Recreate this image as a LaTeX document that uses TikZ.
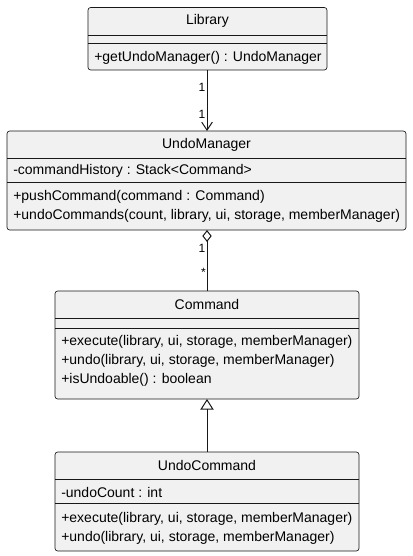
\documentclass[tikz,border=0pt]{standalone}
\usepackage{fontspec}
\setmainfont{Liberation Sans}
\usepackage{tikz}
\usetikzlibrary{
  arrows.meta,
  positioning,
}
\definecolor{umlline}{HTML}{181818}
\definecolor{umlfill}{HTML}{F1F1F1}

\begin{document}
\begin{tikzpicture}[
    x=0.75pt, y=-0.75pt,
    classbox/.style={rectangle, draw=umlline, fill=umlfill, line width=0.5pt,
                     rounded corners=2pt, inner sep=0pt, outer sep=0pt},
    member/.style={anchor=west, inner sep=0pt, font=\fontsize{10.5}{12.6}\selectfont},
    title/.style={inner sep=0pt, font=\fontsize{10.5}{12.6}\selectfont},
    mult/.style={inner sep=0pt, font=\fontsize{9}{10}\selectfont},
    sep/.style={draw=umlline, line width=0.5pt},
    link/.style={draw=umlline, line width=0.75pt},
  ]
  \useasboundingbox (0,0) rectangle (412,556);

  % class boxes
  \node[classbox, minimum width=179.25pt, minimum height=46.875pt] (lib) at (207.5,38.75) {};
  \node[classbox, minimum width=299.25pt, minimum height=74.25pt] (mgr) at (206.5,180.5) {};
  \node[classbox, minimum width=228pt, minimum height=81pt] (cmd) at (207,345) {};
  \node[classbox, minimum width=228pt, minimum height=74.25pt] (ucmd) at (207,501.5) {};

  % compartments
  \draw[sep] (lib.west |- 0,35) -- (lib.east |- 0,35);
  \draw[sep] (lib.west |- 0,43) -- (lib.east |- 0,43);
  \draw[sep] (mgr.west |- 0,158) -- (mgr.east |- 0,158);
  \draw[sep] (mgr.west |- 0,182) -- (mgr.east |- 0,182);
  \draw[sep] (cmd.west |- 0,318) -- (cmd.east |- 0,318);
  \draw[sep] (cmd.west |- 0,328) -- (cmd.east |- 0,328);
  \draw[sep] (ucmd.west |- 0,479) -- (ucmd.east |- 0,479);
  \draw[sep] (ucmd.west |- 0,503) -- (ucmd.east |- 0,503);

  % Library
  \node[title] (lib-t) at (207.5,21) {Library};
  \node[member] (lib-m1) at (94,58) {+getUndoManager() : UndoManager};

  % UndoManager
  \node[title] (mgr-t) at (206.5,144.5) {UndoManager};
  \node[member] (mgr-a1) at (13,171) {-commandHistory : Stack<Command>};
  \node[member] (mgr-m1) at (13,197) {+pushCommand(command : Command)};
  \node[member] (mgr-m2) at (13,216) {+undoCommands(count, library, ui, storage, memberManager)};

  % Command
  \node[title] (cmd-t) at (207,304.5) {Command};
  \node[member] (cmd-m1) at (61,342) {+execute(library, ui, storage, memberManager)};
  \node[member] (cmd-m2) at (61,361) {+undo(library, ui, storage, memberManager)};
  \node[member] (cmd-m3) at (61,380) {+isUndoable() : boolean};

  % UndoCommand
  \node[title] (ucmd-t) at (207,465.5) {UndoCommand};
  \node[member] (ucmd-a1) at (61,492) {-undoCount : int};
  \node[member] (ucmd-m1) at (61,519) {+execute(library, ui, storage, memberManager)};
  \node[member] (ucmd-m2) at (61,538) {+undo(library, ui, storage, memberManager)};

  % relations
  \draw[link, -{Straight Barb[length=6pt, width=8pt]}] (lib.south -| 207,0) -- (mgr.north -| 207,0);
  \node[mult, anchor=east] (lib-n1) at (205.5,87) {1};
  \node[mult, anchor=east] (lib-n2) at (205.5,114) {1};

  \draw[link, {Diamond[open, length=9pt, width=7pt]}-] (mgr.south -| 207,0) -- (cmd.north);
  \node[mult, anchor=east] (mgr-n1) at (205.5,248) {1};
  \node[mult, anchor=east] (cmd-n1) at (206,272) {*};

  \draw[link, {Triangle[open, length=8pt, width=10pt]}-] (cmd.south) -- (ucmd.north);
\end{tikzpicture}
\end{document}
